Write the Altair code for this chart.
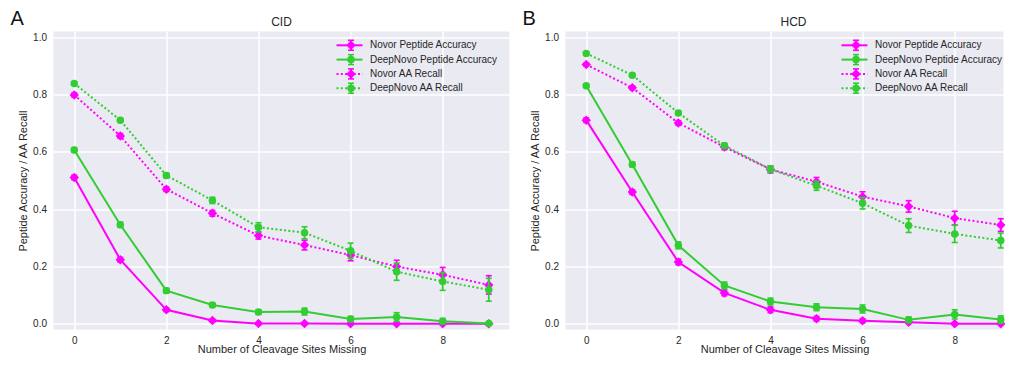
import altair as alt
import pandas as pd

# ---------------- data ----------------
x_vals = [0, 1, 2, 3, 4, 5, 6, 7, 8, 9]

series_names = ["Novor Peptide Accuracy", "DeepNovo Peptide Accuracy",
                "Novor AA Recall", "DeepNovo AA Recall"]

# CID panel
cid_novor_pep = [0.511, 0.224, 0.049, 0.012, 0.001, 0.001, 0.000, 0.000, 0.000, 0.000]
cid_novor_pep_err = [0.008, 0.008, 0.006, 0.005, 0.003, 0.003, 0.002, 0.002, 0.002, 0.002]
cid_deep_pep = [0.607, 0.346, 0.116, 0.066, 0.041, 0.043, 0.017, 0.024, 0.009, 0.001]
cid_deep_pep_err = [0.008, 0.009, 0.008, 0.007, 0.008, 0.012, 0.009, 0.015, 0.010, 0.003]
cid_novor_aa = [0.799, 0.656, 0.470, 0.386, 0.308, 0.275, 0.240, 0.200, 0.171, 0.136]
cid_novor_aa_err = [0.007, 0.008, 0.008, 0.010, 0.012, 0.017, 0.020, 0.022, 0.026, 0.032]
cid_deep_aa = [0.839, 0.711, 0.518, 0.431, 0.337, 0.318, 0.255, 0.182, 0.148, 0.119]
cid_deep_aa_err = [0.006, 0.007, 0.008, 0.011, 0.016, 0.021, 0.027, 0.030, 0.031, 0.040]

# HCD panel
hcd_novor_pep = [0.711, 0.460, 0.216, 0.108, 0.049, 0.018, 0.011, 0.006, 0.000, 0.000]
hcd_novor_pep_err = [0.008, 0.008, 0.010, 0.010, 0.010, 0.008, 0.007, 0.005, 0.003, 0.003]
hcd_deep_pep = [0.831, 0.556, 0.274, 0.134, 0.078, 0.058, 0.052, 0.014, 0.033, 0.015]
hcd_deep_pep_err = [0.006, 0.008, 0.012, 0.012, 0.012, 0.012, 0.014, 0.010, 0.016, 0.013]
hcd_novor_aa = [0.905, 0.824, 0.701, 0.617, 0.539, 0.496, 0.444, 0.410, 0.369, 0.345]
hcd_novor_aa_err = [0.005, 0.006, 0.008, 0.009, 0.012, 0.015, 0.017, 0.020, 0.024, 0.022]
hcd_deep_aa = [0.944, 0.868, 0.736, 0.622, 0.540, 0.482, 0.421, 0.343, 0.314, 0.291]
hcd_deep_aa_err = [0.005, 0.006, 0.007, 0.009, 0.011, 0.016, 0.020, 0.024, 0.030, 0.026]

x_tick_values = [0, 2, 4, 6, 8]
y_tick_values = [0.0, 0.2, 0.4, 0.6, 0.8, 1.0]

# ---------------- styling ----------------
MAGENTA = "#FF00FF"
GREEN = "#32CD32"
TEXT = "#262626"
FONT = "Liberation Sans"
H = 298
PX_PER_UNIT = 456 / 9.9

styles = {
    "Novor Peptide Accuracy": dict(color=MAGENTA, shape="diamond", size=90, dash=None),
    "DeepNovo Peptide Accuracy": dict(color=GREEN, shape="circle", size=56, dash=None),
    "Novor AA Recall": dict(color=MAGENTA, shape="diamond", size=90, dash=[2, 2.3]),
    "DeepNovo AA Recall": dict(color=GREEN, shape="circle", size=56, dash=[2, 2.3]),
}

y_scale = alt.Scale(domain=[-0.02, 1.02], nice=False, zero=False)

x_axis = alt.Axis(values=x_tick_values, format="d", title="Number of Cleavage Sites Missing",
                  ticks=False, domain=False, labelPadding=6, titleY=13.5, titleBaseline="top",
                  grid=True)
y_axis = alt.Axis(values=y_tick_values, format=".1f", title="Peptide Accuracy / AA Recall",
                  ticks=False, domain=False, labelPadding=7, titleX=-27,
                  titleBaseline="alphabetic", grid=True)


def Y(field):
    return alt.Y(field, type="quantitative", scale=y_scale, axis=y_axis)


def panel(title, letter, data, width, legend_x):
    x_scale = alt.Scale(domain=[-0.45, -0.45 + width / PX_PER_UNIT], nice=False, zero=False)

    def X(field):
        return alt.X(field, type="quantitative", scale=x_scale, axis=x_axis)

    layers = []
    for name in series_names:
        vals, errs = data[name]
        st = styles[name]
        df = pd.DataFrame({
            "x": x_vals,
            "value": vals,
            "lo": [v - e for v, e in zip(vals, errs)],
            "hi": [v + e for v, e in zip(vals, errs)],
            "series": name,
        })
        base = alt.Chart(df)
        line_kw = dict(color=st["color"], strokeWidth=2)
        if st["dash"]:
            line_kw["strokeDash"] = st["dash"]
        layers.append(base.mark_line(**line_kw).encode(x=X("x"), y=Y("value")))
        layers.append(base.mark_rule(color=st["color"], strokeWidth=1.8).encode(
            x=X("x"), y=Y("lo"), y2="hi"))
        for f in ["lo", "hi"]:
            layers.append(base.mark_tick(color=st["color"], orient="horizontal", size=6,
                                         thickness=1.6, opacity=1).encode(x=X("x"), y=Y(f)))
        layers.append(base.mark_point(shape=st["shape"], filled=True, size=st["size"],
                                      color=st["color"], opacity=1).encode(
            x=X("x"), y=Y("value")))

    # legend (drawn inside the plot, top right)
    lx = legend_x  # x of the legend line's left end, in plot pixels
    for i, name in enumerate(series_names):
        st = styles[name]
        ly = 13.7 + 14.3 * i
        ldf = pd.DataFrame({"label": [name]})
        lb = alt.Chart(ldf)
        lk = dict(color=st["color"], strokeWidth=2)
        if st["dash"]:
            lk["strokeDash"] = st["dash"]
        layers.append(lb.mark_rule(**lk).encode(
            x=alt.value(lx), x2=alt.value(lx + 26), y=alt.value(ly)))
        layers.append(lb.mark_rule(color=st["color"], strokeWidth=1.8).encode(
            x=alt.value(lx + 14.5), y=alt.value(ly - 5), y2=alt.value(ly + 5)))
        for dy in (-5, 5):
            layers.append(lb.mark_rule(color=st["color"], strokeWidth=1.6).encode(
                x=alt.value(lx + 11.5), x2=alt.value(lx + 17.5), y=alt.value(ly + dy)))
        layers.append(lb.mark_point(shape=st["shape"], filled=True, size=st["size"],
                                    color=st["color"], opacity=1).encode(
            x=alt.value(lx + 14.5), y=alt.value(ly)))
        layers.append(lb.mark_text(align="left", baseline="middle", fontSize=10,
                                   font=FONT, color=TEXT).encode(
            x=alt.value(lx + 33.5), y=alt.value(ly), text="label:N"))

    # panel title and letter
    title_df = pd.DataFrame({"label": [title]})
    layers.append(alt.Chart(title_df).mark_text(align="center", baseline="middle",
                                                fontSize=12, font=FONT, color=TEXT).encode(
        x=alt.value(228), y=alt.value(-10), text="label:N"))
    letter_df = pd.DataFrame({"label": [letter]})
    layers.append(alt.Chart(letter_df).mark_text(align="left", baseline="alphabetic",
                                                 fontSize=20, font=FONT, color="#111111").encode(
        x=alt.value(-43), y=alt.value(-7), text="label:N"))

    return alt.layer(*layers).properties(width=width, height=H)


cid = panel("CID", "A", {
    "Novor Peptide Accuracy": (cid_novor_pep, cid_novor_pep_err),
    "DeepNovo Peptide Accuracy": (cid_deep_pep, cid_deep_pep_err),
    "Novor AA Recall": (cid_novor_aa, cid_novor_aa_err),
    "DeepNovo AA Recall": (cid_deep_aa, cid_deep_aa_err),
}, 456, 283)
hcd = panel("HCD", "B", {
    "Novor Peptide Accuracy": (hcd_novor_pep, hcd_novor_pep_err),
    "DeepNovo Peptide Accuracy": (hcd_deep_pep, hcd_deep_pep_err),
    "Novor AA Recall": (hcd_novor_aa, hcd_novor_aa_err),
    "DeepNovo AA Recall": (hcd_deep_aa, hcd_deep_aa_err),
}, 438, 276)

chart = alt.hconcat(cid, hcd, spacing=13).properties(
    padding={"left": 2.5, "top": 0.6, "right": 0, "bottom": 0},
    background="white",
).configure(font=FONT).configure_view(
    fill="#EAEAF2", strokeWidth=0
).configure_axis(
    gridColor="white", gridWidth=1.5, gridOpacity=1,
    labelFont=FONT, labelFontSize=10, labelColor=TEXT,
    titleFont=FONT, titleFontSize=11, titleColor=TEXT, titleFontWeight="normal",
)

chart.save("out.html", embed_options={"renderer": "svg", "actions": False})
